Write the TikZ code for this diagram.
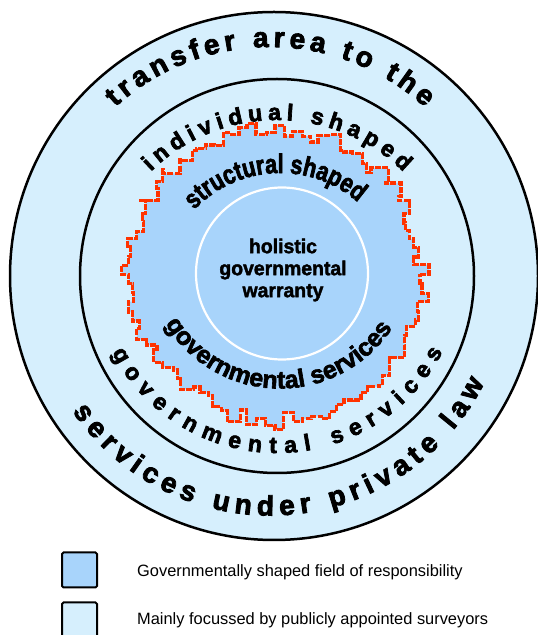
\documentclass[tikz,border=0pt]{standalone}
\usepackage{fontspec}
\setmainfont{Liberation Sans}
\newfontfamily\ringfam{Liberation Sans}[BoldFeatures={FakeBold=3}]
\newfontfamily\innerfam{Liberation Sans}[BoldFeatures={FakeStretch=0.8,FakeBold=2.5}]
\newfontfamily\corefam{Liberation Sans}[BoldFeatures={FakeStretch=0.97,FakeBold=2}]
\newfontfamily\innerbotfam{Liberation Sans}[BoldFeatures={FakeBold=2.5}]
\usetikzlibrary{calc,decorations.text}
\definecolor{paleblue}{RGB}{214,239,253}
\definecolor{midblue}{RGB}{168,212,251}
\definecolor{jagred}{RGB}{255,51,0}
\newcommand\outerringfont{\ringfam\bfseries\fontsize{28}{30}\selectfont}
\newcommand\midringfont{\ringfam\bfseries\fontsize{23}{26}\selectfont}
\newcommand\innertopfont{\innerfam\bfseries\fontsize{27}{30}\selectfont}
\newcommand\innerbotfont{\innerbotfam\bfseries\fontsize{25}{30}\selectfont}
\begin{document}
\begin{tikzpicture}[x=1pt,y=1pt,
  ring/.style={draw=black, line width=2.5pt},
  legbox/.style={draw=black, line width=2pt, rounded corners=1.5pt, minimum size=35pt, inner sep=0pt},
  legtext/.style={anchor=base west, inner sep=0pt, font=\fontsize{16.4}{19}\selectfont},
  ringtext/.style={decorate, decoration={text along path, text align={fit to path}, text={#1}}},
  centertext/.style={decorate, decoration={text along path, text align=center, text={#1}}}
]
\useasboundingbox (0,0) rectangle (538,635);
% centres
\coordinate (co) at (274,359);
\coordinate (cm) at (277,359);
\coordinate (jc) at (275,360.5);
\coordinate (wc) at (282,361.5);
\coordinate (tout) at (270,359);
\coordinate (tmidtop) at (277,335);
\coordinate (tmidbot) at (277,368);
\coordinate (tintop) at (280,344);
\coordinate (tinbot) at (280,381);
% rings
\fill[paleblue] (co) circle[radius=264];
\draw[ring] (co) circle[radius=264];
\draw[ring] (cm) circle[radius=197];
% jagged governmental field
\pgfmathsetseed{4}
\foreach \i in {0,...,99}{
  \pgfmathsetmacro\jr{147+9*rand}
  \coordinate (j\i) at ($(jc)+(\i*3.6:\jr)$);
}
\fill[midblue] (j0) \foreach \i in {1,...,99}{ -| (j\i) } -| (j0) -- cycle;
\draw[jagred, line width=3.2pt, dash pattern=on 6pt off 1.2pt] (j0) \foreach \i in {1,...,99}{ -| (j\i) } -| (j0);
\draw[white, line width=2.2pt] (wc) circle[radius=86];
% curved texts
\path[ringtext={|\outerringfont|transfer area to the}] ($(tout)+(132.5:229)$) arc[start angle=132.5, end angle=47.4, radius=229];
\path[ringtext={|\outerringfont|services under private law}] ($(tout)+(214.4:239.5)$) arc[start angle=214.4, end angle=333.5, radius=239.5];
\path[ringtext={|\midringfont|individual shaped}] ($(tmidtop)+(134.5:180)$) arc[start angle=134.5, end angle=45.4, radius=180];
\path[ringtext={|\midringfont|governmental services}] ($(tmidbot)+(207.4:186)$) arc[start angle=207.4, end angle=333, radius=186];
\path[centertext={|\innertopfont|structural shaped}] ($(tintop)+(136.4:118)$) arc[start angle=136.4, end angle=48.9, radius=118];
\path[centertext={|\innerbotfont|governmental services}] ($(tinbot)+(209.4:134.5)$) arc[start angle=209.4, end angle=328.7, radius=134.5];
% core
\node[name=core, align=center, inner sep=0pt, font=\corefam\bfseries\fontsize{20}{22}\selectfont] at (283,365) {holistic\\governmental\\warranty};
% legend
\node[legbox, fill=midblue, name=key1] at (79.5,65) {};
\node[legbox, fill=paleblue, name=key2] at (79.5,15) {};
\node[legtext, name=key1text] at (137,58.3) {Governmentally shaped field of responsibility};
\node[legtext, name=key2text] at (137,10) {Mainly focussed by publicly appointed surveyors};
\end{tikzpicture}
\end{document}
